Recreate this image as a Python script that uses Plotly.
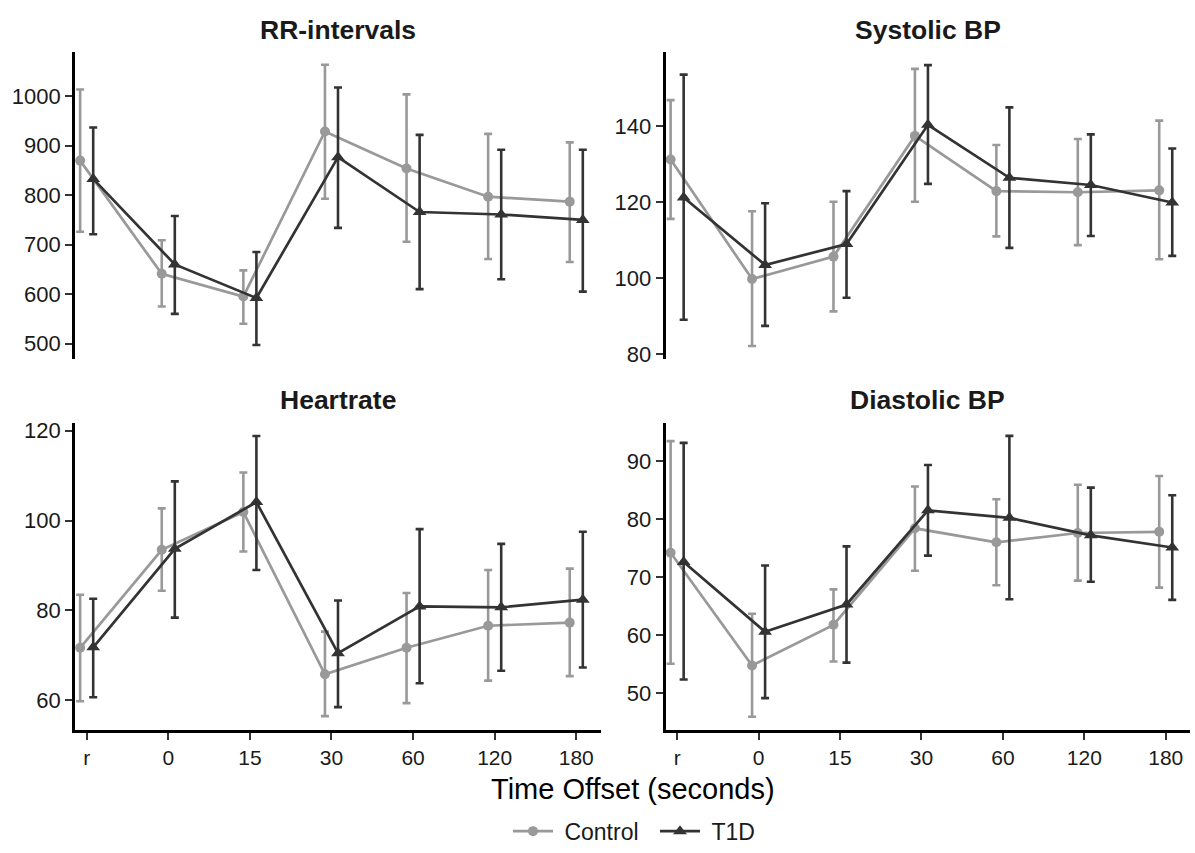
import plotly.graph_objects as go

# ---------------- data ----------------
time_labels = ["r", "0", "15", "30", "60", "120", "180"]
groups = ["Control", "T1D"]
panel_titles = ["RR-intervals", "Systolic BP", "Heartrate", "Diastolic BP"]

rr_control_mean = [870, 641, 595, 929, 854, 797, 787]
rr_control_upper = [1014, 709, 648, 1064, 1004, 924, 907]
rr_control_lower = [726, 575, 540, 793, 706, 671, 665]
rr_t1d_mean = [833, 660, 592, 877, 766, 761, 750]
rr_t1d_upper = [937, 758, 685, 1018, 922, 892, 892]
rr_t1d_lower = [721, 560, 497, 734, 610, 630, 605]

sbp_control_mean = [131.2, 99.8, 105.7, 137.4, 122.9, 122.6, 123.1]
sbp_control_upper = [146.8, 117.6, 120.1, 155.0, 135.0, 136.6, 141.4]
sbp_control_lower = [115.6, 82.2, 91.3, 120.1, 111.0, 108.7, 105.0]
sbp_t1d_mean = [121.2, 103.5, 109.0, 140.3, 126.4, 124.5, 119.9]
sbp_t1d_upper = [153.5, 119.7, 122.9, 156.0, 144.9, 137.8, 134.1]
sbp_t1d_lower = [89.1, 87.5, 94.9, 124.8, 108.0, 111.1, 105.9]

hr_control_mean = [71.7, 93.5, 101.9, 65.8, 71.7, 76.6, 77.3]
hr_control_upper = [83.5, 102.7, 110.7, 75.3, 83.9, 89.0, 89.3]
hr_control_lower = [59.8, 84.4, 93.1, 56.5, 59.4, 64.4, 65.4]
hr_t1d_mean = [71.8, 93.7, 104.1, 70.5, 80.9, 80.7, 82.4]
hr_t1d_upper = [82.6, 108.7, 118.8, 82.2, 98.1, 94.8, 97.5]
hr_t1d_lower = [60.7, 78.4, 89.0, 58.5, 63.8, 66.6, 67.3]

dbp_control_mean = [74.2, 54.8, 61.8, 78.4, 76.0, 77.6, 77.8]
dbp_control_upper = [93.4, 63.7, 67.9, 85.6, 83.4, 85.9, 87.4]
dbp_control_lower = [55.1, 46.0, 55.5, 71.1, 68.6, 69.4, 68.2]
dbp_t1d_mean = [72.6, 60.6, 65.3, 81.5, 80.2, 77.2, 75.1]
dbp_t1d_upper = [93.1, 72.0, 75.3, 89.3, 94.3, 85.4, 84.1]
dbp_t1d_lower = [52.4, 49.2, 55.3, 73.7, 66.2, 69.2, 66.1]

y_ticks = [
    [500, 600, 700, 800, 900, 1000],
    [80, 100, 120, 140],
    [60, 80, 100, 120],
    [50, 60, 70, 80, 90],
]

# ---------------- styling ----------------
W, H = 1195, 853
FONT = "Liberation Sans, Arial, Helvetica, sans-serif"
colors = {"Control": "#999999", "T1D": "#333333"}
symbols = {"Control": "circle", "T1D": "triangle-up"}
msize = {"Control": 10, "T1D": 12}
dodge = {"Control": -0.08, "T1D": 0.08}

# pixel layout of panels
x_dom_px = [(75, 600.6), (665.5, 1190)]
y_dom_px = [(48.5, 360.5), (425, 737.3)]
y_ranges = [[468.7, 1090.2], [78.8, 159.5], [53.4, 121.8], [43.7, 96.6]]
x_range = [0.857, 7.298]

panel_data = [
    [(rr_control_mean, rr_control_upper, rr_control_lower),
     (rr_t1d_mean, rr_t1d_upper, rr_t1d_lower)],
    [(sbp_control_mean, sbp_control_upper, sbp_control_lower),
     (sbp_t1d_mean, sbp_t1d_upper, sbp_t1d_lower)],
    [(hr_control_mean, hr_control_upper, hr_control_lower),
     (hr_t1d_mean, hr_t1d_upper, hr_t1d_lower)],
    [(dbp_control_mean, dbp_control_upper, dbp_control_lower),
     (dbp_t1d_mean, dbp_t1d_upper, dbp_t1d_lower)],
]

fig = go.Figure()
idx = list(range(1, len(time_labels) + 1))

for p in range(4):
    sfx = "" if p == 0 else str(p + 1)
    for g, (mean, upper, lower) in zip(groups, panel_data[p]):
        xs = [i + dodge[g] for i in idx]
        fig.add_trace(go.Scatter(
            x=xs, y=mean,
            mode="lines+markers",
            name="\u00a0" + g,
            legendgroup=g,
            showlegend=(p == 0),
            line=dict(color=colors[g], width=2.7),
            marker=dict(color=colors[g], symbol=symbols[g], size=msize[g]),
            error_y=dict(
                type="data", symmetric=False,
                array=[u - m for u, m in zip(upper, mean)],
                arrayminus=[m - l for m, l in zip(mean, lower)],
                color=colors[g], thickness=2.6, width=4,
            ),
            xaxis="x" + sfx, yaxis="y" + sfx,
            hoverinfo="skip",
        ))

layout = dict(
    width=W, height=H, autosize=False,
    margin=dict(l=0, r=0, t=0, b=0),
    paper_bgcolor="white", plot_bgcolor="white",
    font=dict(family=FONT, color="black"),
    showlegend=True,
    legend=dict(
        orientation="h", x=655 / W, xanchor="center",
        y=1 - 840 / H, yanchor="middle",
        font=dict(size=23, family=FONT, color="#1a1a1a"),
        itemwidth=40, entrywidth=92, bgcolor="rgba(0,0,0,0)",
        traceorder="normal",
    ),
)

for p in range(4):
    sfx = "" if p == 0 else str(p + 1)
    col = p % 2
    row = p // 2
    xd = [x_dom_px[col][0] / W, x_dom_px[col][1] / W]
    yd = [1 - y_dom_px[row][1] / H, 1 - y_dom_px[row][0] / H]
    bottom = row == 1
    layout["xaxis" + sfx] = dict(
        domain=xd, range=x_range, anchor="y" + sfx,
        showgrid=False, zeroline=False,
        showline=bottom, linecolor="black", linewidth=2.6,
        ticks="outside" if bottom else "", ticklen=7, tickwidth=2.2,
        tickcolor="#333333",
        showticklabels=bottom,
        tickmode="array", tickvals=idx, ticktext=time_labels,
        tickfont=dict(size=21, family=FONT, color="#1a1a1a"),
        fixedrange=True,
    )
    layout["yaxis" + sfx] = dict(
        domain=yd, range=y_ranges[p], anchor="x" + sfx,
        showgrid=False, zeroline=False,
        showline=True, linecolor="black", linewidth=2.6,
        ticks="outside", ticklen=7, tickwidth=2.2, tickcolor="#333333",
        tickmode="array", tickvals=y_ticks[p],
        tickfont=dict(size=22, family=FONT, color="#1a1a1a"),
        fixedrange=True,
    )

annotations = []
title_y_px = [26.5, 402]
for p, t in enumerate(panel_titles):
    col = p % 2
    row = p // 2
    cx = (x_dom_px[col][0] + x_dom_px[col][1]) / 2
    annotations.append(dict(
        text="<b>" + t + "</b>", x=cx / W, y=1 - title_y_px[row] / H,
        xref="paper", yref="paper", xanchor="center", yanchor="middle",
        showarrow=False, font=dict(size=26.5, family=FONT, color="#1a1a1a"),
    ))
annotations.append(dict(
    text="Time Offset (seconds)", x=632.5 / W, y=1 - 797 / H,
    xref="paper", yref="paper", xanchor="center", yanchor="middle",
    showarrow=False, font=dict(size=29, family=FONT, color="black"),
))
layout["annotations"] = annotations

fig.update_layout(**layout)
fig.write_html("out.html")
